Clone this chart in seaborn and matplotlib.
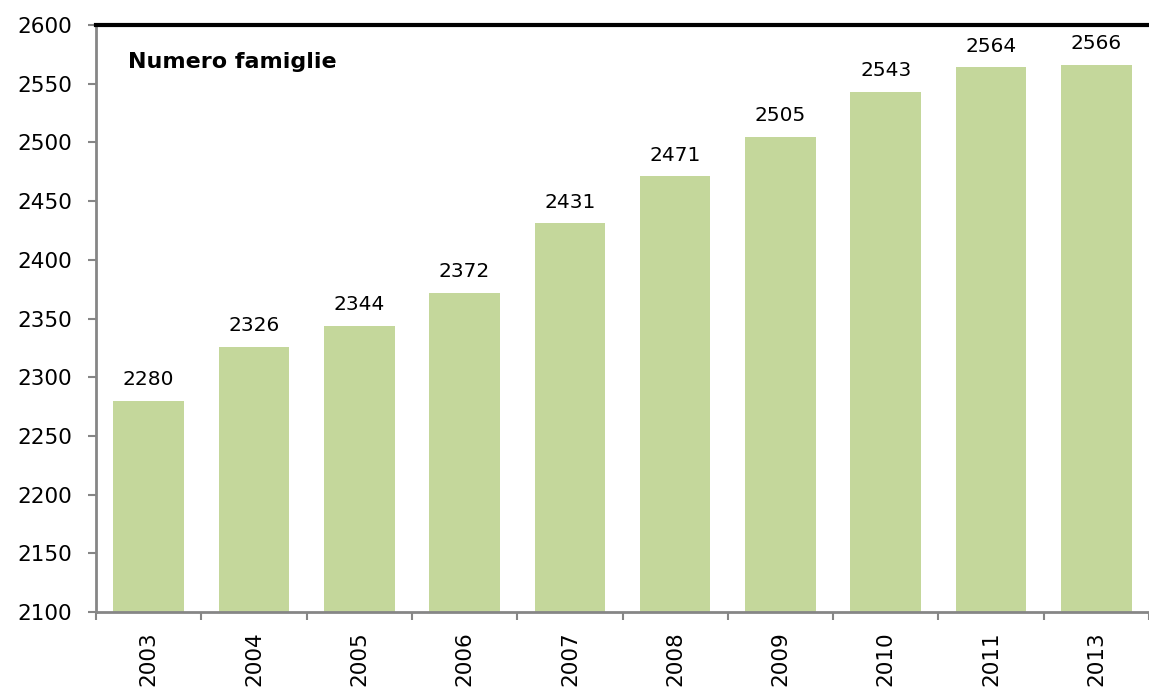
import numpy as np
import pandas as pd
import matplotlib
matplotlib.use('Agg')
import matplotlib.pyplot as plt
import seaborn as sns

# Data
years = ['2003', '2004', '2005', '2006', '2007', '2008', '2009', '2010', '2011', '2013']
famiglie = [2280, 2326, 2344, 2372, 2431, 2471, 2505, 2543, 2564, 2566]

df = pd.DataFrame({'Anno': years, 'Famiglie': famiglie})

sns.set_style('white')
plt.rcParams['font.family'] = ['DejaVu Sans']
plt.rcParams['text.color'] = 'black'

fig = plt.figure(figsize=(11.49, 6.91), dpi=100)
ax = fig.add_axes([0.0836, 0.1143, 0.9164, 0.8495])

sns.barplot(data=df, x='Anno', y='Famiglie', color='#c4d79b', saturation=1,
            width=0.67, linewidth=0, ax=ax)

ax.set_ylim(2100, 2600)
ax.set_xlim(-0.5, len(years) - 0.5)
ax.set_yticks(np.arange(2100, 2601, 50))
ax.tick_params(axis='y', labelsize=15.5, length=6, width=1.5, color='#868686',
               direction='out', left=True, pad=11, labelcolor='black')
ax.tick_params(axis='x', which='major', labelsize=15.5, length=0, pad=14,
               labelrotation=90, labelcolor='black')
ax.set_xticks(np.arange(-0.5, len(years), 1.0), minor=True)
ax.tick_params(axis='x', which='minor', length=6, width=1.5, color='#868686',
               direction='out', bottom=True)
ax.set_xlabel('')
ax.set_ylabel('')

# value labels
for i, v in enumerate(famiglie):
    ax.text(i, v + 10, str(v), ha='center', va='bottom', fontsize=14.5,
            color='black')

ax.text(0.03, 0.937, 'Numero famiglie', transform=ax.transAxes,
        fontsize=16, fontweight='bold', va='center', ha='left', color='black')

for s in ['left', 'bottom']:
    ax.spines[s].set_color('#868686')
    ax.spines[s].set_linewidth(2)
ax.spines['top'].set_color('black')
ax.spines['top'].set_linewidth(3)
ax.spines['right'].set_visible(False)

fig.savefig('out.png', dpi=100)
